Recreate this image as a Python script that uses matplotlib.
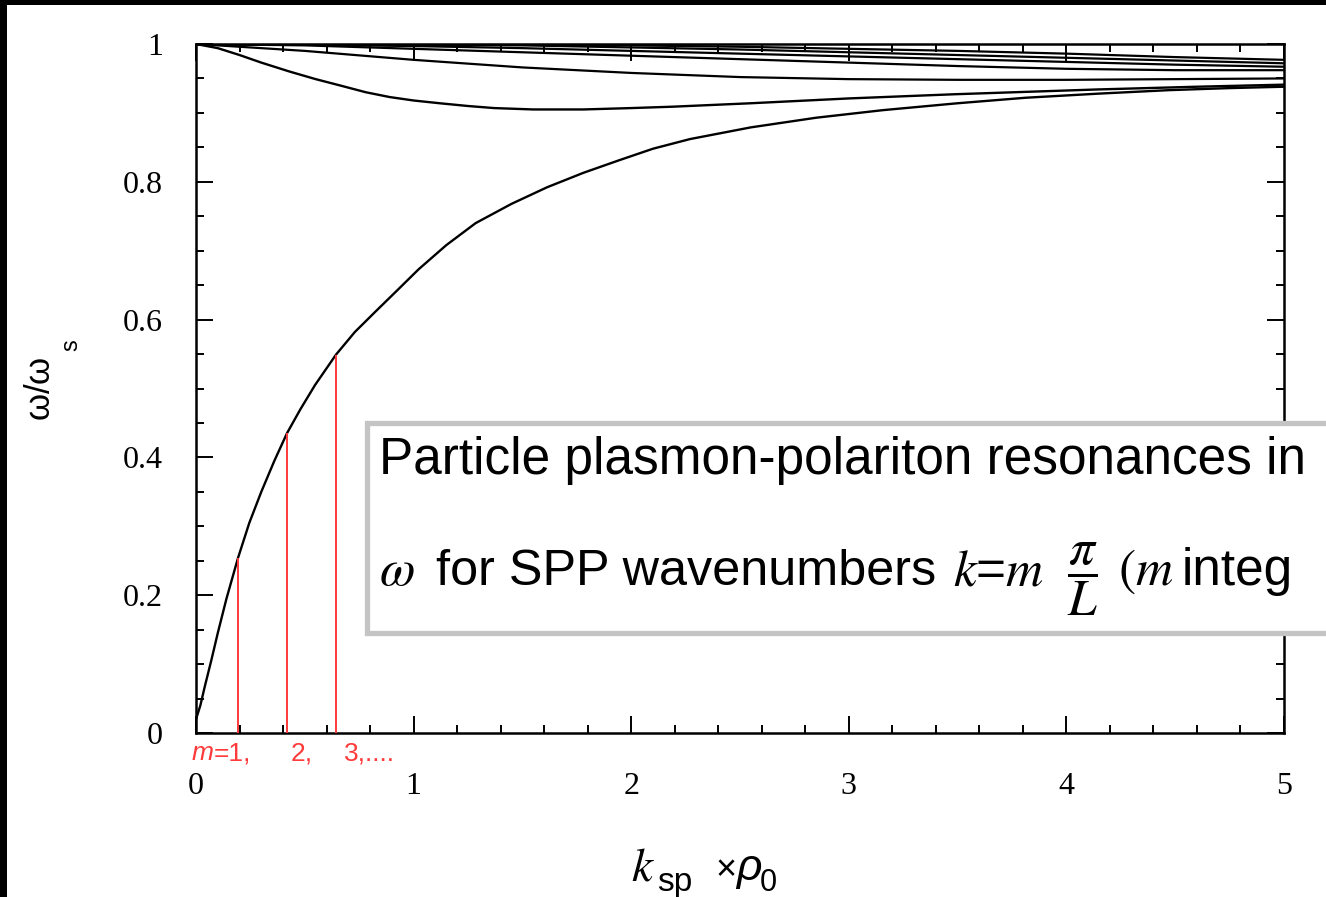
import matplotlib
matplotlib.use('Agg')
from matplotlib import pyplot as plt
from matplotlib.patches import Rectangle
from matplotlib.ticker import MultipleLocator

# curves (k_sp * rho_0, omega/omega_s)
k1 = [0, 0.02, 0.04, 0.07, 0.1, 0.14, 0.193, 0.245, 0.3, 0.36, 0.418, 0.48, 0.547,
      0.643, 0.73, 0.826, 0.92, 1.023, 1.15, 1.285, 1.45, 1.613, 1.78, 1.942, 2.1,
      2.27, 2.55, 2.85, 3.157, 3.5, 3.813, 4.15, 4.47, 4.75, 5.0]
w1 = [0.02, 0.04, 0.067, 0.105, 0.145, 0.195, 0.254, 0.305, 0.35, 0.395, 0.435, 0.47,
      0.505, 0.549, 0.582, 0.612, 0.641, 0.673, 0.708, 0.740, 0.768, 0.792, 0.813,
      0.831, 0.848, 0.862, 0.879, 0.893, 0.904, 0.914, 0.922, 0.928, 0.933, 0.936,
      0.938]

k2 = [0, 0.1, 0.2, 0.3, 0.43, 0.55, 0.66, 0.78, 0.89, 1.0, 1.12, 1.25, 1.37, 1.55,
      1.78, 2.0, 2.19, 2.55, 3.0, 3.48, 4.14, 4.6, 5.0]
w2 = [1.0, 0.994, 0.984, 0.973, 0.960, 0.949, 0.940, 0.930, 0.923, 0.918, 0.914,
      0.910, 0.907, 0.905, 0.905, 0.907, 0.909, 0.914, 0.921, 0.927, 0.934, 0.938,
      0.941]

k_up = [0, 0.5, 1.0, 1.5, 2.0, 2.5, 3.0, 3.5, 4.0, 4.5, 5.0]
w3 = [1.0, 0.990, 0.977, 0.966, 0.958, 0.952, 0.949, 0.948, 0.948, 0.949, 0.950]
w4 = [1.0, 0.998, 0.993, 0.988, 0.983, 0.978, 0.973, 0.968, 0.964, 0.962, 0.962]
w5 = [1.0, 0.999, 0.997, 0.994, 0.990, 0.986, 0.982, 0.978, 0.974, 0.970, 0.967]
w6 = [1.0, 1.0, 0.999, 0.998, 0.995, 0.992, 0.988, 0.984, 0.980, 0.976, 0.972]
w7 = [1.0, 1.0, 1.0, 0.999, 0.998, 0.996, 0.993, 0.990, 0.986, 0.981, 0.977]

# resonances m = 1, 2, 3
k_res = [0.193, 0.418, 0.643]
w_res = [0.254, 0.435, 0.549]

x_ticks = [0, 1, 2, 3, 4, 5]
y_ticks = [0, 0.2, 0.4, 0.6, 0.8, 1]
y_labels = ['0', '0.2', '0.4', '0.6', '0.8', '1']

red = '#ff3a3a'
W, H = 1326, 897


def ftext(x, y, s, **kw):
    # place text by pixel position (top-left origin)
    return fig.text(x / W, 1 - y / H, s, **kw)


if __name__ == '__main__':
    fig = plt.figure(figsize=(W / 100, H / 100), dpi=100)
    fig.patch.set_facecolor('white')
    ax = fig.add_axes([196 / W, 1 - 733 / H, (1284 - 196) / W, (733 - 44) / H])

    for k, w in [(k1, w1), (k2, w2)]:
        ax.plot(k, w, color='black', lw=1.7)
    for w in [w3, w4, w5, w6, w7]:
        ax.plot(k_up, w, color='black', lw=1.6)

    ax.vlines(k_res, 0, w_res, color=red, lw=1.4, zorder=3)

    ax.set_xlim(0, 5)
    ax.set_ylim(0, 1)
    ax.set_xticks(x_ticks)
    ax.set_yticks(y_ticks)
    ax.set_yticklabels(y_labels)
    ax.xaxis.set_minor_locator(MultipleLocator(0.2))
    ax.yaxis.set_minor_locator(MultipleLocator(0.05))
    ax.tick_params(which='both', direction='in', top=True, right=True, width=1.4)
    ax.tick_params(which='major', length=12)
    ax.tick_params(which='minor', length=6)
    ax.tick_params(axis='x', which='major', pad=28, labelsize=23)
    ax.tick_params(axis='y', which='major', pad=24, labelsize=23)
    for lab in ax.get_xticklabels() + ax.get_yticklabels():
        lab.set_fontfamily('Liberation Serif')
    for s in ax.spines.values():
        s.set_linewidth(1.8)

    # red m labels under the axis
    rkw = dict(color=red, fontsize=19, fontfamily='Liberation Sans', va='baseline')
    ftext(192, 760, 'm', style='italic', **rkw)
    ftext(214, 760, '=1,', **rkw)
    ftext(291, 760, '2,', **rkw)
    ftext(344, 760, '3,....', **rkw)

    # axis labels
    ftext(41, 389, r'$\mathregular{\omega/\omega}$', rotation=90,
          fontsize=25, ha='center', va='center', fontfamily='Liberation Sans')
    ftext(71, 345, 's', rotation=90, fontsize=17,
          ha='center', va='center', fontfamily='Liberation Sans')

    ftext(631, 880, r'$k$', fontsize=34, math_fontfamily='stix', va='baseline')
    ftext(657, 891, 'sp', fontsize=24, fontfamily='Liberation Sans', va='baseline')
    ftext(715, 880, '×', fontsize=26, fontfamily='Liberation Sans', va='baseline')
    ftext(736, 880, 'ρ', fontsize=32, fontfamily='Liberation Sans',
          style='italic', va='baseline')
    ftext(760, 891, '0', fontsize=22, fontfamily='Liberation Sans', va='baseline')

    # annotation box (runs past the right edge, as in the scan)
    box = Rectangle((367 / W, 1 - 633 / H), 1000 / W, 210 / H,
                    transform=fig.transFigure, facecolor='white',
                    edgecolor='#c4c4c4', lw=3.8, zorder=5)
    fig.add_artist(box)
    bkw = dict(fontsize=37, fontfamily='Liberation Sans', va='baseline', zorder=6)
    ftext(379, 474, 'Particle plasmon-polariton resonances in', **bkw)
    ftext(379, 585, r'$\omega$', math_fontfamily='stix', **bkw)
    ftext(436, 585, 'for SPP wavenumbers', fontsize=36.3,
          fontfamily='Liberation Sans', va='baseline', zorder=6)
    ftext(953, 585, r'$k$=$m$', math_fontfamily='stix', **bkw)
    ftext(1067, 585, r'$\dfrac{\pi}{L}$', math_fontfamily='stix', **bkw)
    ftext(1118, 585, r'$(m$', math_fontfamily='stix', **bkw)
    ftext(1182, 585, 'integ', **bkw)

    # black scan border
    fig.add_artist(Rectangle((0, 1 - 5 / H), 1, 5 / H, transform=fig.transFigure,
                             facecolor='black', edgecolor='none', zorder=10))
    fig.add_artist(Rectangle((0, 0), 7 / W, 1, transform=fig.transFigure,
                             facecolor='black', edgecolor='none', zorder=10))

    fig.savefig('out.png', dpi=100)
